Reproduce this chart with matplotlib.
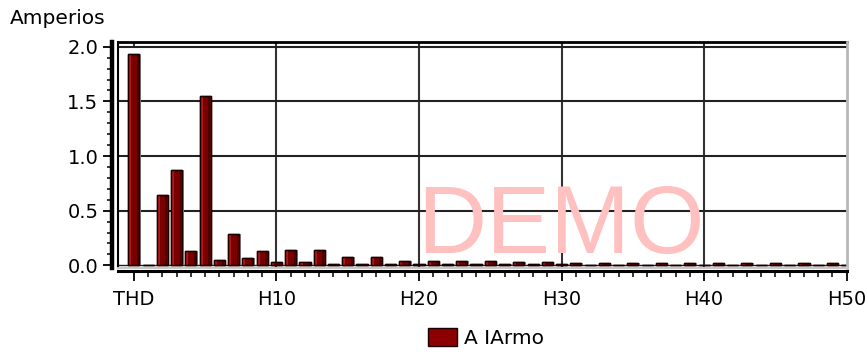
import numpy as np
import matplotlib
matplotlib.use('Agg')
import matplotlib.pyplot as plt
from matplotlib.ticker import MultipleLocator, FormatStrFormatter, FixedLocator
from matplotlib.patches import Patch

# the labels in the original are set in a wide sans, DejaVu is the closest
plt.rcParams['font.family'] = ['DejaVu Sans']

# harmonic categories: THD, then H1..H50
categories = ['THD'] + ['H%d' % i for i in range(1, 51)]
amperes = [1.93, 0.0, 0.64, 0.87, 0.13, 1.55, 0.05, 0.29, 0.065, 0.13,
           0.03, 0.14, 0.03, 0.14, 0.015, 0.075, 0.012, 0.075, 0.012, 0.04,
           0.012, 0.04, 0.01, 0.038, 0.01, 0.038, 0.01, 0.03, 0.008, 0.03,
           0.008, 0.018, 0.006, 0.018, 0.006, 0.018, 0.006, 0.018, 0.006, 0.018,
           0.006, 0.018, 0.006, 0.018, 0.006, 0.018, 0.006, 0.018, 0.006, 0.018,
           0.006]
series_label = 'A IArmo'
y_label = 'Amperios'
watermark = 'DEMO'

x = np.arange(len(categories))
vals = np.array(amperes)

fig = plt.figure(figsize=(8.68, 3.54), dpi=100)
ax = fig.add_axes([0.1363, 0.2438, 0.8392, 0.6384])
ax.set_xlim(-1.09, 50)
ax.set_ylim(-0.022, 2.046)

# grid
for gx in x[10:50:10]:
    ax.axvline(gx, color='#333333', lw=1.5, zorder=1)
for gy in [0.5, 1.0, 1.5, 2.0]:
    ax.axhline(gy, color='#222222', lw=1.5, zorder=1)
ax.axhline(0.0, color='#202020', lw=1.0, zorder=1)

# bars with a little cylinder shading
w = 0.78
ax.bar(x + 0.1, vals, width=w, color='#a8a8a8', linewidth=0, zorder=2)
ax.bar(x, vals, width=w, color='#7a0000', edgecolor='#1a0000', linewidth=1.0, zorder=3)
ax.bar(x - w / 2 + 0.14, vals, width=0.16, color='#b01818', linewidth=0, zorder=4)
ax.bar(x + w / 2 - 0.12, vals, width=0.12, color='#4a0000', linewidth=0, zorder=4)
ax.bar(x, vals, width=w, fill=False, edgecolor='#1a0000', linewidth=1.0, zorder=5)

# frame of the plot area
ax.plot([0, 1], [1, 1], transform=ax.transAxes, color='black', lw=2, clip_on=False, zorder=6)
ax.plot([0, 0], [0, 1], transform=ax.transAxes, color='black', lw=1.5, clip_on=False, zorder=6)
ax.plot([1, 1], [0, 1], transform=ax.transAxes, color='#b8b8b8', lw=2, clip_on=False, zorder=6)
ax.plot([0, 1], [0, 0], transform=ax.transAxes, color='#c8c8c8', lw=1.5, clip_on=False, zorder=6)

# detached axis bars
ax.spines['top'].set_visible(False)
ax.spines['right'].set_visible(False)
ax.spines['left'].set_position(('outward', 4.8))
ax.spines['left'].set_linewidth(3.2)
ax.spines['bottom'].set_position(('outward', 2.7))
ax.spines['bottom'].set_linewidth(2.2)

ax.yaxis.set_major_locator(MultipleLocator(0.5))
ax.yaxis.set_minor_locator(MultipleLocator(0.1))
ax.yaxis.set_major_formatter(FormatStrFormatter('%.1f'))
ax.xaxis.set_major_locator(FixedLocator(x[::10]))
ax.xaxis.set_minor_locator(FixedLocator(x))
ax.set_xticklabels(categories[::10])

ax.tick_params(axis='y', which='major', direction='out', length=6.5, width=1.3,
               pad=3, labelsize=14)
ax.tick_params(axis='y', which='minor', direction='out', length=3.6, width=1.1)
ax.tick_params(axis='x', which='major', direction='out', length=7.2, width=1.3,
               pad=6, labelsize=14)
ax.tick_params(axis='x', which='minor', direction='out', length=4.3, width=1.1)

top = ax.secondary_xaxis('top')
top.set_xticks(x[::10])
top.tick_params(direction='in', length=4, width=1.1, labeltop=False)
top.spines['top'].set_visible(False)

fig.text(0.011, 0.948, y_label, fontsize=14.5, ha='left', va='center')

fig.text(0.6465, 0.2845, watermark, fontsize=69, color='#ffc0c0',
         ha='center', va='baseline', family='Liberation Sans')

handle = Patch(facecolor='#8b0000', edgecolor='#1a0000', linewidth=1.0)
fig.legend([handle], [series_label], loc='center', bbox_to_anchor=(0.56, 0.045),
           frameon=False, fontsize=14.5, handlelength=1.4, handleheight=1.0,
           handletextpad=0.35)

fig.savefig('out.png', dpi=100)
